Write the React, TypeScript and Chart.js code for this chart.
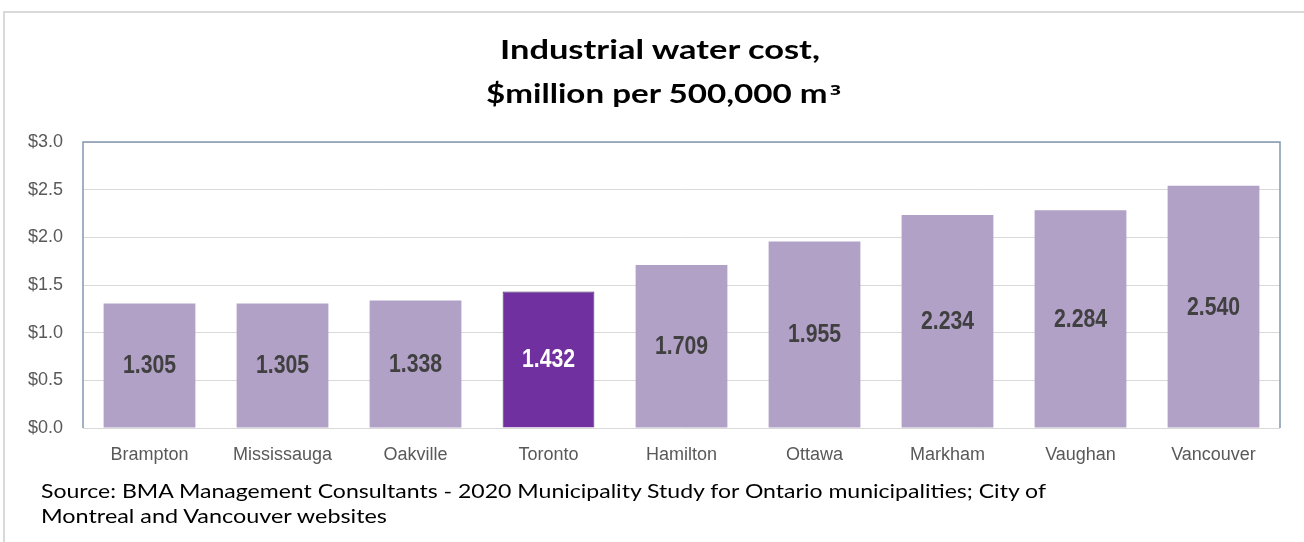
import React, { useEffect, useLayoutEffect, useRef } from "react";
import { Chart, registerables } from "chart.js";

Chart.register(...registerables);

const categories = ["Brampton", "Mississauga", "Oakville", "Toronto", "Hamilton", "Ottawa", "Markham", "Vaughan", "Vancouver"];
const costValues = [1.305, 1.305, 1.338, 1.432, 1.709, 1.955, 2.234, 2.284, 2.54];
const valueLabels = ["1.305", "1.305", "1.338", "1.432", "1.709", "1.955", "2.234", "2.284", "2.540"];
const highlightCategory = "Toronto";
const yTickValues = [0, 0.5, 1, 1.5, 2, 2.5, 3];
const titleLine1 = "Industrial water cost,";
const titleLine2 = "$million per 500,000 m";
const titleSuperscript = "3";
const sourceLines = [
  "Source: BMA Management Consultants - 2020 Municipality Study for Ontario municipalities; City of",
  "Montreal and Vancouver websites",
];

const BASE_COLOR = "#b2a1c7";
const HIGHLIGHT_COLOR = "#7030a0";

function FitLine(props: { left: number; top: number; width: number; style: React.CSSProperties; children: React.ReactNode }) {
  const ref = useRef<HTMLSpanElement>(null);
  useLayoutEffect(() => {
    const el = ref.current;
    if (!el) return;
    el.style.transform = "none";
    const w = el.getBoundingClientRect().width;
    if (w > 0) el.style.transform = `scaleX(${props.width / w})`;
  }, [props.width]);
  return (
    <span
      ref={ref}
      style={{
        position: "absolute",
        left: props.left,
        top: props.top,
        whiteSpace: "nowrap",
        transformOrigin: "0 0",
        lineHeight: 1,
        ...props.style,
      }}
    >
      {props.children}
    </span>
  );
}

export default function App() {
  const canvasRef = useRef<HTMLCanvasElement>(null);

  useEffect(() => {
    document.body.style.margin = "0";
    const canvas = canvasRef.current;
    if (!canvas) return;

    const frameAndLabels = {
      id: "frameAndLabels",
      beforeDatasetsDraw(chart: any) {
        const { ctx, chartArea } = chart;
        ctx.save();
        ctx.strokeStyle = "#8497b0";
        ctx.lineWidth = 1.5;
        ctx.beginPath();
        ctx.moveTo(chartArea.left, chartArea.bottom);
        ctx.lineTo(chartArea.left, chartArea.top);
        ctx.lineTo(chartArea.right, chartArea.top);
        ctx.lineTo(chartArea.right, chartArea.bottom);
        ctx.stroke();
        ctx.restore();
      },
      afterDatasetsDraw(chart: any) {
        const { ctx } = chart;
        const meta = chart.getDatasetMeta(0);
        ctx.textAlign = "center";
        ctx.textBaseline = "middle";
        ctx.font = "bold 25px 'Liberation Sans', Arial, sans-serif";
        meta.data.forEach((bar: any, i: number) => {
          ctx.save();
          ctx.fillStyle = categories[i] === highlightCategory ? "#ffffff" : "#404040";
          ctx.translate(bar.x, (bar.y + bar.base) / 2 + 1);
          ctx.scale(0.85, 1);
          ctx.fillText(valueLabels[i], 0, 0);
          ctx.restore();
        });
      },
    };

    const chart = new Chart(canvas, {
      type: "bar",
      data: {
        labels: categories,
        datasets: [
          {
            data: costValues,
            backgroundColor: categories.map((c) => (c === highlightCategory ? HIGHLIGHT_COLOR : BASE_COLOR)),
            borderColor: categories.map((c) => (c === highlightCategory ? "#3d3d5c" : BASE_COLOR)),
            borderWidth: categories.map((c) => (c === highlightCategory ? 1 : 0)),
            barPercentage: 0.69,
            categoryPercentage: 1,
          },
        ],
      },
      options: {
        animation: false,
        responsive: false,
        maintainAspectRatio: false,
        layout: { padding: { left: 0, top: 142, right: 24, bottom: 0 } },
        plugins: {
          legend: { display: false },
          title: { display: false },
          tooltip: { enabled: false },
        },
        scales: {
          x: {
            grid: { display: false, drawTicks: false },
            border: { display: false },
            ticks: {
              color: "#595959",
              padding: 16,
              font: { family: "'Liberation Sans', Arial, sans-serif", size: 18 },
              maxRotation: 0,
            },
            afterFit(scale: any) {
              scale.height = 114;
            },
          },
          y: {
            min: 0,
            max: 3,
            afterBuildTicks(scale: any) {
              scale.ticks = yTickValues.map((v) => ({ value: v }));
            },
            grid: { color: "#d9d9d9", lineWidth: 1, drawTicks: false },
            border: { display: false },
            ticks: {
              color: "#595959",
              padding: 20,
              font: { family: "'Liberation Sans', Arial, sans-serif", size: 18 },
              callback: (v: any) => "$" + Number(v).toFixed(1),
            },
            afterFit(scale: any) {
              scale.width = 83;
            },
          },
        },
      },
      plugins: [frameAndLabels],
    });

    return () => chart.destroy();
  }, []);

  const titleStyle: React.CSSProperties = {
    fontFamily: "Lato, 'Open Sans', sans-serif",
    fontWeight: 700,
    fontSize: 26,
    color: "#000000",
  };
  const sourceStyle: React.CSSProperties = {
    fontFamily: "Lato, 'Open Sans', sans-serif",
    fontWeight: 400,
    fontSize: 19,
    color: "#000000",
  };

  return (
    <div style={{ position: "relative", width: 1304, height: 542, overflow: "hidden", background: "#ffffff" }}>
      <div
        style={{
          position: "absolute",
          left: 3,
          top: 11,
          width: 1330,
          height: 580,
          border: "2px solid #d9d9d9",
          boxSizing: "border-box",
        }}
      />
      <canvas ref={canvasRef} width={1304} height={542} style={{ position: "absolute", left: 0, top: 0, width: 1304, height: 542 }} />
      <FitLine left={500} top={36} width={320} style={titleStyle}>
        {titleLine1}
      </FitLine>
      <FitLine left={486} top={80} width={355} style={titleStyle}>
        {titleLine2}
        <span style={{ fontFamily: "'Open Sans', sans-serif", fontSize: 15, position: "relative", top: -8, marginLeft: 2 }}>
          {titleSuperscript}
        </span>
      </FitLine>
      <FitLine left={41} top={481} width={1005} style={sourceStyle}>
        {sourceLines[0]}
      </FitLine>
      <FitLine left={41} top={506} width={346} style={sourceStyle}>
        {sourceLines[1]}
      </FitLine>
    </div>
  );
}
